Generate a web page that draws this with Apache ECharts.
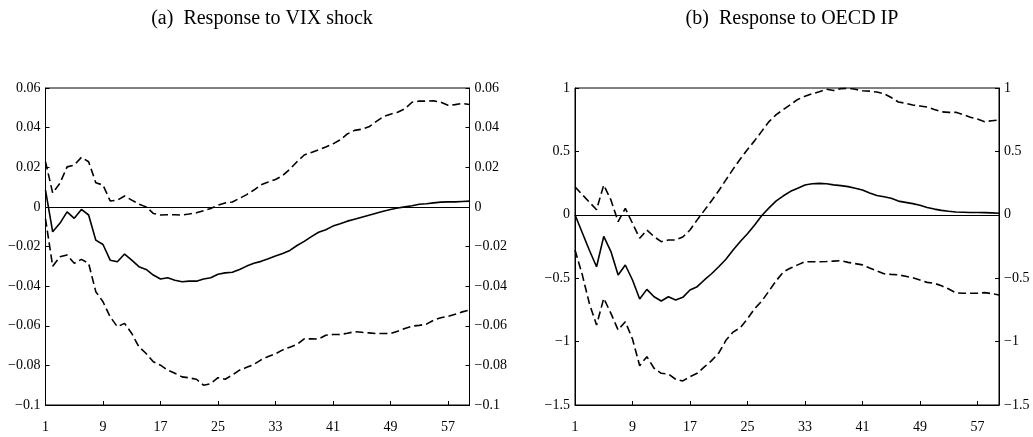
<!DOCTYPE html>
<html>
<head>
<meta charset="utf-8">
<script src="https://cdn.jsdelivr.net/npm/echarts@6/dist/echarts.min.js"></script>
<style>
html,body{margin:0;padding:0;background:#fff;}
#c{width:1033px;height:437px;}
</style>
</head>
<body>
<div id="c"></div>
<script>
// Horizons 1..60
var periods = [];
for (var i = 1; i <= 60; i++) periods.push(String(i));

var titleA = "(a)  Response to VIX shock";
var titleB = "(b)  Response to OECD IP";

// Panel (a): response to VIX shock
var vixIrf = [0.0085,-0.0126,-0.0083,-0.0025,-0.0058,-0.0013,-0.0041,-0.0168,-0.019,-0.0269,
  -0.0277,-0.0238,-0.0269,-0.0302,-0.0316,-0.0344,-0.0364,-0.0358,-0.037,-0.0378,
  -0.0375,-0.0375,-0.0364,-0.0358,-0.034,-0.0333,-0.033,-0.0316,-0.0299,-0.0285,
  -0.0275,-0.0262,-0.0248,-0.0235,-0.022,-0.0195,-0.0174,-0.015,-0.0128,-0.0115,
  -0.0097,-0.0085,-0.0072,-0.0062,-0.0052,-0.0042,-0.0032,-0.0022,-0.0013,-0.0006,
  0.0,0.0006,0.0013,0.0016,0.002,0.0024,0.0025,0.0025,0.0027,0.0029];
var vixUpper = [0.0228,0.007,0.0119,0.0202,0.0211,0.025,0.0228,0.0122,0.011,0.003,
  0.0034,0.0055,0.0034,0.0014,0.0,-0.0033,-0.0041,-0.004,-0.004,-0.0041,
  -0.0036,-0.003,-0.002,-0.0008,0.0009,0.002,0.0025,0.0043,0.0062,0.0085,
  0.0112,0.0125,0.0138,0.0158,0.019,0.0228,0.0262,0.0275,0.0288,0.0302,
  0.0318,0.0338,0.0368,0.0386,0.0392,0.0404,0.043,0.0455,0.0468,0.0478,
  0.0495,0.0528,0.0534,0.0534,0.0535,0.0528,0.0513,0.0516,0.0522,0.0517];
var vixLower = [-0.006,-0.030,-0.0252,-0.0243,-0.0285,-0.0265,-0.0285,-0.0428,-0.0479,-0.0555,
  -0.0605,-0.0588,-0.0639,-0.0706,-0.074,-0.0782,-0.0799,-0.0824,-0.084,-0.0858,
  -0.0863,-0.087,-0.09,-0.0892,-0.0862,-0.087,-0.0849,-0.0824,-0.081,-0.0795,
  -0.0772,-0.0755,-0.0742,-0.0722,-0.0708,-0.0695,-0.0666,-0.0666,-0.0667,-0.0648,
  -0.0644,-0.0644,-0.0638,-0.063,-0.0633,-0.0636,-0.0639,-0.0639,-0.0639,-0.0628,
  -0.0614,-0.0602,-0.0598,-0.0592,-0.0572,-0.056,-0.0553,-0.0542,-0.053,-0.0521];

// Panel (b): response to OECD IP
var ipIrf = [0,-0.14,-0.28,-0.41,-0.17,-0.29,-0.475,-0.396,-0.514,-0.664,
  -0.588,-0.646,-0.68,-0.646,-0.672,-0.651,-0.593,-0.567,-0.514,-0.465,
  -0.41,-0.35,-0.278,-0.21,-0.15,-0.08,-0.005,0.055,0.11,0.15,
  0.185,0.21,0.235,0.245,0.248,0.245,0.236,0.23,0.222,0.21,
  0.195,0.172,0.152,0.142,0.13,0.108,0.098,0.088,0.075,0.058,
  0.045,0.035,0.028,0.022,0.02,0.018,0.018,0.017,0.015,0.012];
var ipUpper = [0.22,0.16,0.1,0.04,0.235,0.117,-0.054,0.051,-0.067,-0.185,
  -0.12,-0.172,-0.212,-0.199,-0.199,-0.175,-0.12,-0.04,0.035,0.11,
  0.19,0.275,0.36,0.44,0.515,0.585,0.66,0.735,0.79,0.83,
  0.87,0.91,0.935,0.955,0.97,0.99,0.98,0.995,0.998,0.99,
  0.978,0.975,0.968,0.955,0.925,0.89,0.88,0.866,0.858,0.85,
  0.83,0.812,0.808,0.808,0.79,0.77,0.755,0.734,0.742,0.748];
var ipLower = [-0.278,-0.47,-0.7,-0.869,-0.659,-0.777,-0.909,-0.843,-0.98,-1.19,
  -1.119,-1.21,-1.25,-1.256,-1.297,-1.31,-1.277,-1.25,-1.2,-1.15,
  -1.09,-0.99,-0.925,-0.89,-0.82,-0.74,-0.68,-0.6,-0.52,-0.45,
  -0.42,-0.395,-0.37,-0.37,-0.37,-0.368,-0.365,-0.362,-0.375,-0.385,
  -0.395,-0.42,-0.443,-0.465,-0.47,-0.473,-0.485,-0.497,-0.515,-0.533,
  -0.54,-0.56,-0.585,-0.615,-0.619,-0.619,-0.619,-0.614,-0.622,-0.632];

var axisA = {min: -0.1, max: 0.06, interval: 0.02};
var axisB = {min: -1.5, max: 1, interval: 0.5};

var FONT = "'Liberation Serif','DejaVu Serif',serif";
function fmt(v) {
  var s = String(Math.round(v * 1000) / 1000);
  return s.replace('-', '\u2212');
}
function yAx(gi, pos, ax) {
  return {
    type: 'value', gridIndex: gi, position: pos,
    min: ax.min, max: ax.max, interval: ax.interval,
    axisLine: {show: true, onZero: false, lineStyle: {color: '#000', width: 1}},
    axisTick: {show: true, inside: true, length: 4, lineStyle: {color: '#000'}},
    axisLabel: {show: true, color: '#000', fontFamily: FONT, fontSize: 14, margin: 5, formatter: fmt},
    splitLine: {show: false}
  };
}
function xAx(gi) {
  return {
    type: 'category', gridIndex: gi, data: periods, boundaryGap: false,
    axisLine: {show: true, onZero: false, lineStyle: {color: '#000', width: 1}},
    axisTick: {show: true, inside: true, length: 4, interval: 7, alignWithLabel: true, lineStyle: {color: '#000'}},
    axisLabel: {show: true, interval: 7, color: '#000', fontFamily: FONT, fontSize: 14, margin: 15},
    splitLine: {show: false}
  };
}
function ser(gi, yi, data, dashed, zero) {
  var s = {
    type: 'line', xAxisIndex: gi, yAxisIndex: yi, data: data,
    showSymbol: false, symbol: 'none', smooth: false, animation: false,
    lineStyle: {color: '#000', width: 1.6, type: dashed ? [8, 4] : 'solid'},
    z: 3
  };
  if (zero) {
    s.markLine = {
      silent: true, symbol: ['none', 'none'], label: {show: false}, animation: false,
      lineStyle: {color: '#000', width: 1, type: 'solid'},
      data: [{yAxis: 0}]
    };
  }
  return s;
}

var chart = echarts.init(document.getElementById('c'), null, {renderer: 'canvas'});
chart.setOption({
  animation: false,
  backgroundColor: '#fff',
  title: [
    {text: titleA, left: 257, top: 4, textAlign: 'center',
     textStyle: {fontFamily: FONT, fontSize: 20, fontWeight: 'normal', color: '#000'}},
    {text: titleB, left: 787, top: 4, textAlign: 'center',
     textStyle: {fontFamily: FONT, fontSize: 20, fontWeight: 'normal', color: '#000'}}
  ],
  grid: [
    {left: 45.5, width: 424, top: 88, height: 317, show: true, borderColor: '#000', borderWidth: 1, backgroundColor: 'transparent'},
    {left: 575, width: 424, top: 88, height: 317, show: true, borderColor: '#000', borderWidth: 1, backgroundColor: 'transparent'}
  ],
  xAxis: [xAx(0), xAx(1)],
  yAxis: [yAx(0, 'left', axisA), yAx(0, 'right', axisA), yAx(1, 'left', axisB), yAx(1, 'right', axisB)],
  series: [
    ser(0, 0, vixIrf, false, true),
    ser(0, 0, vixUpper, true),
    ser(0, 0, vixLower, true),
    ser(1, 2, ipIrf, false, true),
    ser(1, 2, ipUpper, true),
    ser(1, 2, ipLower, true)
  ]
});
</script>
</body>
</html>
